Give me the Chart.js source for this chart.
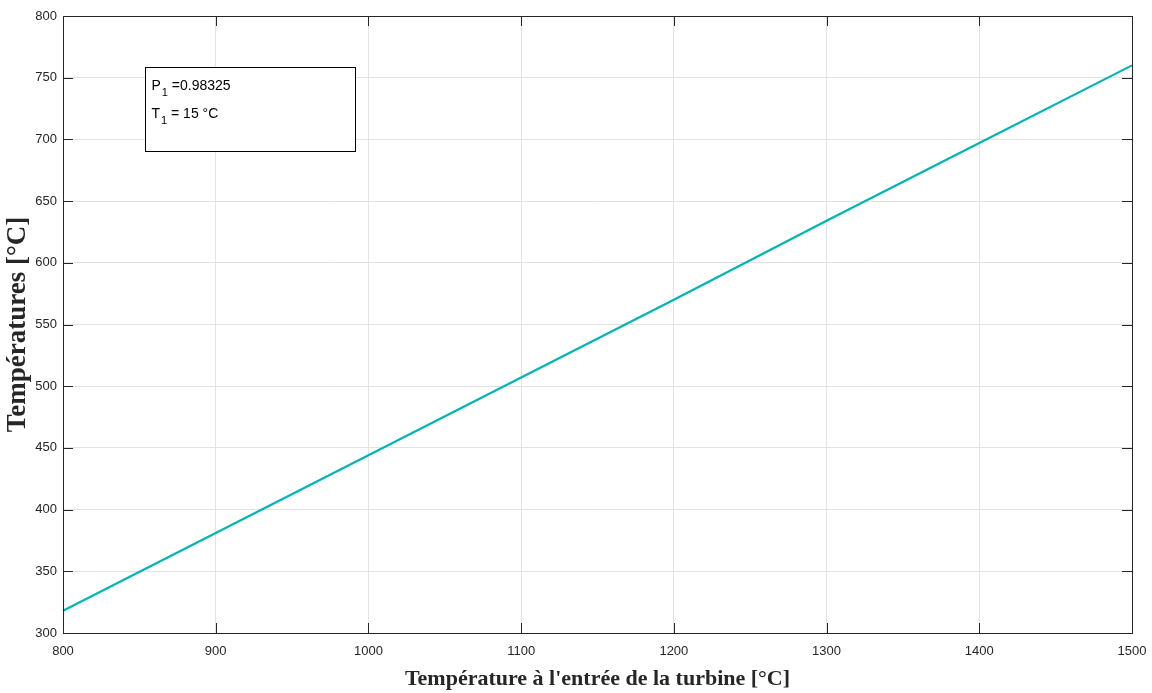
<!DOCTYPE html>
<html>
<head>
<meta charset="utf-8">
<script src="https://cdn.jsdelivr.net/npm/chart.js@4"></script>
<style>
  html, body { margin: 0; padding: 0; background: #fff; }
  #wrap { width: 1152px; height: 693px; }
</style>
</head>
<body>
<div id="wrap"><canvas id="c" width="1152" height="693"></canvas></div>
<script>
// turbine inlet temperature [°C]
const tInlet = [800, 900, 1000, 1100, 1200, 1300, 1400, 1500];
// outlet temperature [°C]
const tOut = [318, 381, 444, 507, 570, 634, 697, 760];
const xTitle = "Température à l'entrée de la turbine [°C]";
const yTitle = 'Températures [°C]';
const noteLines = [['P', '1', ' =0.98325'], ['T', '1', ' = 15 °C']];
// box corners in data units
const noteBox = { x0: 854, x1: 991, y0: 759, y1: 691 };

const ink = '#262626';

const framePlugin = {
  id: 'frame',
  afterDatasetsDraw(chart) {
    const { ctx, chartArea: a, scales } = chart;
    ctx.save();
    // inward tick marks
    ctx.strokeStyle = ink;
    ctx.lineWidth = 1;
    ctx.beginPath();
    scales.x.ticks.forEach(t => {
      const px = Math.round(scales.x.getPixelForValue(t.value)) + 0.5;
      ctx.moveTo(px, a.bottom); ctx.lineTo(px, a.bottom - 10);
      ctx.moveTo(px, a.top); ctx.lineTo(px, a.top + 10);
    });
    scales.y.ticks.forEach(t => {
      const py = Math.round(scales.y.getPixelForValue(t.value)) + 0.5;
      ctx.moveTo(a.left, py); ctx.lineTo(a.left + 10, py);
      ctx.moveTo(a.right, py); ctx.lineTo(a.right - 10, py);
    });
    ctx.stroke();
    // frame
    ctx.strokeRect(Math.round(a.left) + 0.5, Math.round(a.top) + 0.5,
      Math.round(a.right - a.left), Math.round(a.bottom - a.top));

    // annotation box
    const bx0 = Math.round(scales.x.getPixelForValue(noteBox.x0)) + 0.5;
    const bx1 = Math.round(scales.x.getPixelForValue(noteBox.x1)) + 0.5;
    const by0 = Math.round(scales.y.getPixelForValue(noteBox.y0)) + 0.5;
    const by1 = Math.round(scales.y.getPixelForValue(noteBox.y1)) + 0.5;
    ctx.fillStyle = '#fff';
    ctx.fillRect(bx0, by0, bx1 - bx0, by1 - by0);
    ctx.strokeStyle = '#000';
    ctx.strokeRect(bx0, by0, bx1 - bx0, by1 - by0);
    ctx.fillStyle = '#000';
    ctx.textBaseline = 'alphabetic';
    noteLines.forEach((ln, i) => {
      let x = bx0 + 6;
      const y = by0 + 22 + i * 28;
      ctx.font = '14px "Liberation Sans", Arial, sans-serif';
      ctx.fillText(ln[0], x, y);
      x += ctx.measureText(ln[0]).width;
      ctx.font = '11px "Liberation Sans", Arial, sans-serif';
      ctx.fillText(ln[1], x + 1, y + 6);
      x += ctx.measureText(ln[1]).width + 1;
      ctx.font = '14px "Liberation Sans", Arial, sans-serif';
      ctx.fillText(ln[2], x, y);
    });
    ctx.restore();
  }
};

new Chart(document.getElementById('c'), {
  type: 'line',
  data: {
    labels: tInlet,
    datasets: [{
      data: tInlet.map((x, i) => ({ x, y: tOut[i] })),
      borderColor: '#00b5b5',
      borderWidth: 2.2,
      pointRadius: 0,
      tension: 0,
      clip: false
    }]
  },
  options: {
    responsive: false,
    animation: false,
    layout: { padding: { top: 16, right: 20, left: 0, bottom: 0 } },
    plugins: { legend: { display: false }, tooltip: { enabled: false } },
    scales: {
      x: {
        type: 'linear',
        min: 800, max: 1500,
        ticks: {
          stepSize: 100,
          color: ink,
          padding: 11,
          callback: v => String(v),
          font: { family: '"Liberation Sans", Arial, sans-serif', size: 13 }
        },
        grid: { color: '#e3e3e3', drawTicks: false },
        border: { display: false },
        title: {
          display: true, text: xTitle, color: ink,
          font: { family: '"Liberation Serif", "Times New Roman", serif', size: 22, weight: 'bold' },
          padding: { top: 6, bottom: 0 }
        },
        afterFit(s) { s.height = 60; s.paddingRight = 0; s.paddingLeft = 0; }
      },
      y: {
        min: 300, max: 800,
        ticks: {
          stepSize: 50,
          color: ink,
          padding: 6,
          callback: v => String(v),
          font: { family: '"Liberation Sans", Arial, sans-serif', size: 13 }
        },
        grid: { color: '#e3e3e3', drawTicks: false },
        border: { display: false },
        title: {
          display: true, text: yTitle, color: ink,
          font: { family: '"Liberation Serif", "Times New Roman", serif', size: 27, weight: 'bold' },
          padding: { top: 2, bottom: 0 }
        },
        afterFit(s) { s.width = 63; s.paddingTop = 0; s.paddingBottom = 0; }
      }
    }
  },
  plugins: [framePlugin]
});
</script>
</body>
</html>
